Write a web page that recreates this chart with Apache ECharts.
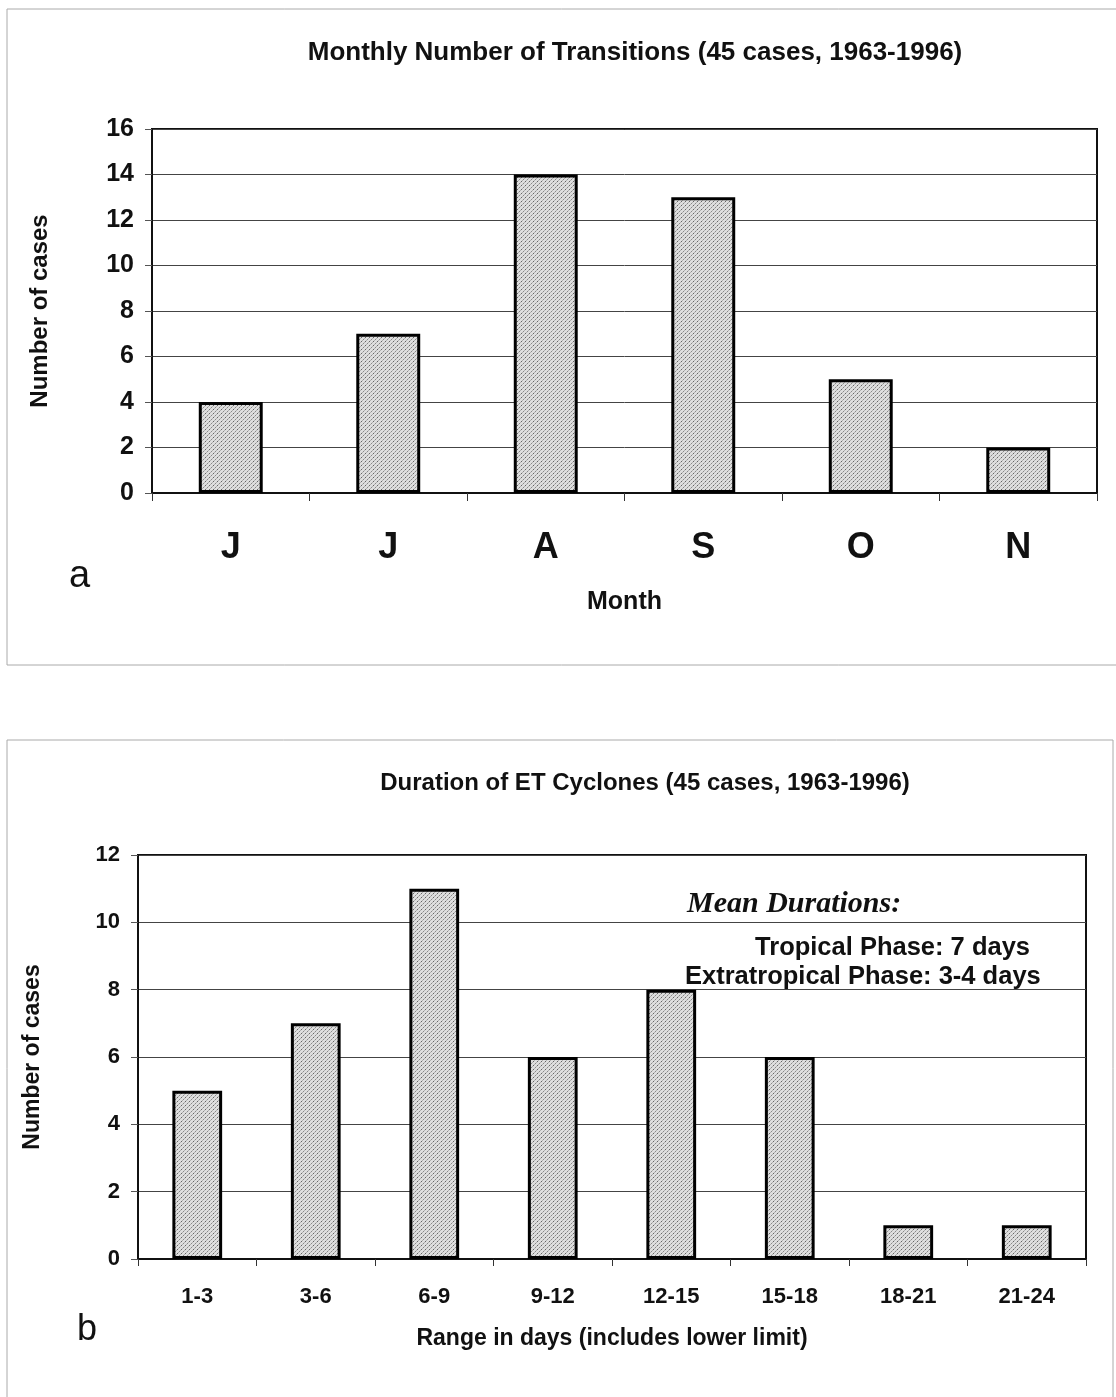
<!DOCTYPE html>
<html><head><meta charset="utf-8">
<script src="https://cdn.jsdelivr.net/npm/echarts@6/dist/echarts.min.js"></script>
<style>html,body{margin:0;padding:0;background:#fff}#c{width:1116px;height:1397px}</style>
</head><body><div id="c"></div>
<script>
// Data
var monthCategories = ['Jun', 'Jul', 'Aug', 'Sep', 'Oct', 'Nov'];
var monthLabels = ['J', 'J', 'A', 'S', 'O', 'N'];
var monthCases = [4, 7, 14, 13, 5, 2];
var durationCategories = ['1-3', '3-6', '6-9', '9-12', '12-15', '15-18', '18-21', '21-24'];
var durationCases = [5, 7, 11, 6, 8, 6, 1, 1];
var titleA = 'Monthly Number of Transitions (45 cases, 1963-1996)';
var titleB = 'Duration of ET Cyclones (45 cases, 1963-1996)';

// dotted fill pattern
var pc = document.createElement('canvas');
pc.width = 4; pc.height = 4;
var ctx = pc.getContext('2d');
ctx.fillStyle = '#dedede'; ctx.fillRect(0, 0, 4, 4);
ctx.fillStyle = '#666'; ctx.fillRect(1, 1, 1, 1);
ctx.fillStyle = '#8a8a8a'; ctx.fillRect(3, 3, 1, 1);
ctx.fillStyle = '#b0b0b0'; ctx.fillRect(0, 2, 1, 1); ctx.fillRect(2, 0, 1, 1);
var fillPattern = { image: pc, repeat: 'repeat' };

var FONT = '"Liberation Sans", Arial, sans-serif';
var chart = echarts.init(document.getElementById('c'), null, { renderer: 'canvas' });

function yAxis(gridIndex, max, fs, gap, nfs) {
  return {
    type: 'value', gridIndex: gridIndex, min: 0, max: max, interval: 2,
    axisLine: { show: true, lineStyle: { color: '#111', width: 2 } },
    axisTick: { show: true, length: 7, lineStyle: { color: '#555' } },
    axisLabel: { color: '#111', fontFamily: FONT, fontWeight: 'bold', fontSize: fs, margin: 18 },
    splitLine: { show: true, lineStyle: { color: '#444', width: 1 } },
    name: 'Number of cases', nameLocation: 'middle', nameRotate: 90, nameGap: gap,
    nameTextStyle: { color: '#111', fontFamily: FONT, fontWeight: 'bold', fontSize: nfs }
  };
}

var option = {
  backgroundColor: '#fff',
  animation: false,
  title: [
    { text: titleA, left: 630, top: 35, textAlign: 'center',
      textStyle: { fontFamily: FONT, fontWeight: 'bold', fontSize: 26, color: '#111' } },
    { text: titleB, left: 640, top: 766, textAlign: 'center',
      textStyle: { fontFamily: FONT, fontWeight: 'bold', fontSize: 24, color: '#111' } }
  ],
  grid: [
    { left: 152, top: 129, width: 945, height: 364, show: true, borderColor: '#111', borderWidth: 2, containLabel: false },
    { left: 138, top: 855, width: 948, height: 404, show: true, borderColor: '#111', borderWidth: 2, containLabel: false }
  ],
  xAxis: [
    { type: 'category', gridIndex: 0, data: monthCategories,
      axisLine: { lineStyle: { color: '#111', width: 2 } },
      axisTick: { show: true, length: 8, lineStyle: { color: '#333' } },
      axisLabel: { margin: 37, fontFamily: FONT, fontWeight: 'bold', fontSize: 36, color: '#111',
        formatter: function (v, i) { return monthLabels[i]; } },
      name: 'Month', nameLocation: 'middle', nameGap: 97,
      nameTextStyle: { fontFamily: FONT, fontWeight: 'bold', fontSize: 25, color: '#111' } },
    { type: 'category', gridIndex: 1, data: durationCategories,
      axisLine: { lineStyle: { color: '#111', width: 2 } },
      axisTick: { show: true, length: 7, lineStyle: { color: '#333' } },
      axisLabel: { margin: 27, fontFamily: FONT, fontWeight: 'bold', fontSize: 22, color: '#111' },
      name: 'Range in days (includes lower limit)', nameLocation: 'middle', nameGap: 68,
      nameTextStyle: { fontFamily: FONT, fontWeight: 'bold', fontSize: 23, color: '#111' } }
  ],
  yAxis: [ yAxis(0, 16, 25, 100, 24), yAxis(1, 12, 22, 94, 23) ],
  series: [
    { type: 'bar', xAxisIndex: 0, yAxisIndex: 0, data: monthCases, barWidth: '40.6%',
      itemStyle: { color: fillPattern, borderColor: '#000', borderWidth: 3 } },
    { type: 'bar', xAxisIndex: 1, yAxisIndex: 1, data: durationCases, barWidth: '42%',
      itemStyle: { color: fillPattern, borderColor: '#000', borderWidth: 3 } }
  ],
  graphic: [
    { type: 'polyline', shape: { points: [[1116, 9], [7, 9], [7, 665], [1116, 665]] },
      style: { stroke: '#aaa', lineWidth: 1, fill: null }, silent: true },
    { type: 'polyline', shape: { points: [[7, 1397], [7, 740], [1113, 740], [1113, 1397]] },
      style: { stroke: '#aaa', lineWidth: 1, fill: null }, silent: true },
    { type: 'text', left: 69, top: 558,
      style: { text: 'a', font: '38px ' + FONT, fill: '#111' } },
    { type: 'text', left: 77, top: 1312,
      style: { text: 'b', font: '36px ' + FONT, fill: '#111' } },
    { type: 'text', left: 687, top: 889,
      style: { text: 'Mean Durations:', font: 'italic bold 30px "Liberation Serif", "Times New Roman", serif', fill: '#111' } },
    { type: 'text', right: 86, top: 935,
      style: { text: 'Tropical Phase: 7 days', font: 'bold 25.5px ' + FONT, fill: '#111', textAlign: 'right' } },
    { type: 'text', left: 685, top: 964,
      style: { text: 'Extratropical Phase: 3-4 days', font: 'bold 25.5px ' + FONT, fill: '#111' } }
  ]
};
chart.setOption(option);
</script>
</body></html>
